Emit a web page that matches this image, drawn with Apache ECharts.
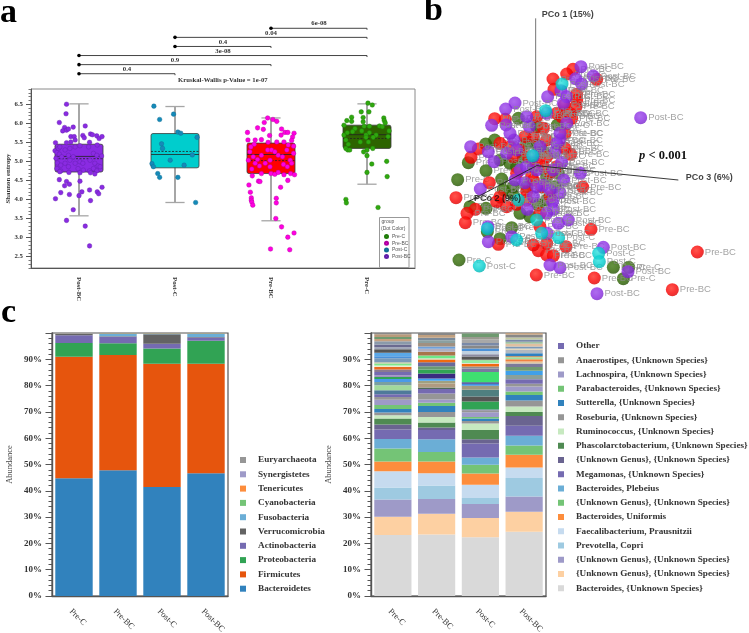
<!DOCTYPE html>
<html><head><meta charset="utf-8">
<style>html,body{margin:0;padding:0;background:#fff}#main{width:749px;height:633px}</style>
<script src="https://cdn.jsdelivr.net/npm/echarts@6/dist/echarts.min.js"></script>
</head><body><div id="main"></div>
<script>
// ---------- Panel a ----------
const boxCategories = ['Post-BC','Post-C','Pre-BC','Pre-C'];
const whiskerLow  = [3.57,3.92,3.44,4.40];
const q1          = [4.72,4.83,4.68,5.34];
const medians     = [5.13,5.18,5.18,5.70];
const means       = [5.07,5.26,5.02,5.60];
const q3          = [5.45,5.73,5.48,5.95];
const whiskerHigh = [6.51,6.44,6.14,6.51];
const yTicksA = [2.5,3,3.5,4,4.5,5,5.5,6,6.5];
const pairs = [[2,3,5,'6e-08'],[1,3,4,'0.04'],[1,2,3,'0.4'],[0,3,2,'3e-08'],[0,2,1,'0.9'],[0,1,0,'0.4']];

const dotsPostBC = [[-.13,6.5],[-.135,6.25],[-.205,6.02],[.065,5.93],[-.06,5.9],[-.15,5.89],[-.17,5.8],[-.13,5.82],[-.11,5.85],[-.085,5.65],[-.05,5.65],[.04,5.68],[.055,5.62],[.12,5.72],[.14,5.7],[.185,5.67],[.21,5.6],[.24,5.65],[.11,5.5],[-.04,5.56],[-.085,5.51],[-.13,5.49],[-.245,5.49],[.01,5.41],[-.25,5.28],[-.215,5.34],[-.2,5.38],[-.23,5.23],[-.205,5.19],[-.18,5.12],[-.24,5.08],[-.225,4.96],[-.19,4.9],[-.23,4.81],[-.19,4.75],[-.145,5.3],[-.095,5.34],[-.04,5.38],[-.11,5.16],[-.06,5.12],[-.095,5.03],[-.145,4.95],[-.11,4.86],[-.04,4.95],[.01,4.99],[.04,4.95],[-.01,4.81],[.045,4.77],[.1,5.38],[.19,5.43],[.15,5.21],[.185,5.16],[.235,5.14],[.115,5.03],[.165,4.95],[.2,4.88],[.15,4.81],[.11,4.75],[.22,4.86],[.185,4.75],[.165,4.67],[.12,4.7],[-.105,4.71],[.01,4.7],[-.2,4.73],[-.205,4.52],[-.13,4.47],[-.1,4.4],[-.15,4.36],[-.19,4.18],[-.1,4.13],[.01,4.48],[.03,4.2],[0,4.1],[.11,4.25],[.12,3.97],[.19,4.2],[.205,4.15],[.24,4.32],[-.245,4.02],[-.06,3.73],[-.13,3.45],[.065,3.3],[.11,2.78]];
const dotsPostC = [[.78,6.45],[.84,6.1],[.985,6.24],[1.03,5.77],[1.06,5.74],[1.23,5.63],[.76,4.94],[.775,4.86],[.82,4.68],[.84,4.58],[1.03,4.58],[.86,5.46],[.87,5.34],[.95,5.03],[1.095,4.9],[1.18,5.17],[1.215,3.92]];
const dotsPreBC = [[1.965,6.14],[2.02,6.1],[2.06,6.05],[1.93,6.02],[1.86,5.88],[1.92,5.84],[2.11,5.85],[1.755,5.76],[2.105,5.69],[1.985,5.68],[2.145,5.76],[2.175,5.76],[2.24,5.74],[2.225,5.64],[1.76,5.56],[1.835,5.56],[1.9,5.57],[2.215,5.55],[2.135,5.51],[2.06,5.51],[1.97,5.5],[1.825,5.45],[1.79,5.38],[2.235,5.4],[2.18,5.43],[1.78,5.25],[1.815,5.12],[1.765,5.03],[1.86,5.05],[1.9,5.16],[1.965,5.3],[2.005,5.3],[2.04,5.25],[2.075,5.16],[1.99,5.03],[2.12,5.12],[2.165,5.3],[2.235,5.21],[2.2,5.03],[1.835,4.95],[1.88,4.88],[1.94,4.95],[1.99,4.86],[2.13,4.92],[2.17,4.86],[2.215,4.95],[1.8,4.8],[1.9,4.68],[1.805,4.62],[2,4.68],[2.04,4.66],[2.075,4.71],[2.135,4.65],[2.205,4.68],[2.245,4.65],[1.77,4.38],[1.87,4.48],[1.885,4.47],[2.175,4.5],[2.1,4.32],[1.785,4.19],[1.795,4.04],[1.795,3.98],[1.8,3.93],[1.81,3.85],[2.055,4.03],[2.055,3.91],[2.05,3.5],[2.11,3.28],[2.24,3.12],[2.175,3.01],[1.995,2.7],[2.195,2.68]];
const dotsPreC = [[3.01,6.53],[3.055,6.48],[2.94,6.3],[3.02,6.3],[2.84,6.16],[3.175,6.14],[2.96,6.15],[2.96,6.04],[2.79,6.07],[2.84,6.05],[3.18,6.07],[3.19,6.01],[2.76,5.95],[2.97,5.92],[3.025,5.92],[3.13,5.93],[3.16,5.91],[2.875,5.86],[2.85,5.78],[2.945,5.8],[2.76,5.69],[2.795,5.75],[3.23,5.8],[3.025,5.75],[2.99,5.69],[3.095,5.69],[3.065,5.63],[2.99,5.63],[3.22,5.65],[2.78,5.56],[2.93,5.51],[3.015,5.51],[2.805,5.45],[2.78,5.34],[2.8,5.3],[2.82,5.3],[3.06,5.34],[2.965,5.25],[3,5.3],[3,5.15],[3.05,4.93],[3.205,5.0],[3,4.71],[3.21,4.6],[2.78,4.0],[2.785,3.91],[3.115,3.79]];

// ---------- Panel b (PCoA scores x1000: PCo3 horizontal, PCo1 vertical as projected) ----------
const pcoaRed = [[109,289],[90,275],[49,260],[180,259],[120,214],[52,229],[-126,141],[-94,139],[83,182],[75,147],[-175,50],[-197,25],[102,34],[0,7],[-142,-51],[138,-64],[-242,-96],[-60,-116],[-120,-108],[-184,-131],[-209,-143],[-214,-171],[163,-191],[-115,-236],[5,-255],[30,-233],[-10,-238],[30,-268],[50,-270],[88,-243],[173,-337],[-1,-328],[482,-259],[407,-372],[10,-183],[-30,-78],[-90,-123],[-50,47],[30,77],[-10,87],[20,112],[-35,87],[-70,27],[-110,67],[15,-63],[60,157],[100,157],[0,147],[30,27],[-15,-33],[60,-3],[120,197],[118,177],[105,142],[85,97],[85,52],[-80,57],[-25,27],[20,-3],[-10,-43],[-60,-23],[-110,-93],[-30,-103],[10,-143],[40,-93],[40,-23]];
const pcoaPurple = [[312,144],[133,297],[170,269],[117,261],[135,245],[73,225],[33,207],[-65,188],[-93,170],[-135,121],[-92,122],[-22,117],[-198,57],[-145,42],[-128,12],[-68,77],[70,77],[55,42],[75,10],[131,-23],[81,-43],[70,-81],[20,-59],[-65,-43],[-35,-51],[-169,-70],[-10,-93],[-28,-131],[48,-108],[50,-131],[65,-173],[95,-163],[-146,-183],[-145,-228],[32,-203],[200,-245],[40,-298],[70,-306],[274,-318],[181,-384],[-75,-213],[90,207],[30,157],[-30,147],[-50,-13],[0,-13],[-80,97],[10,57],[80,187],[90,127],[70,97],[60,67],[-60,47],[-10,27],[50,-13],[0,-63],[-30,-3],[30,-143],[-90,37],[40,-73]];
const pcoaGreen = [[-55,142],[62,122],[-153,65],[-126,77],[-205,9],[-152,-15],[-237,-42],[-105,-40],[-80,7],[20,42],[0,62],[55,-63],[65,-23],[-100,-73],[-70,-88],[-200,-123],[-152,-128],[5,-118],[-20,-153],[-75,-186],[-110,-219],[-148,-198],[-233,-283],[230,-305],[276,-305],[260,-339],[-40,27],[-70,-63],[-30,67],[-60,-3],[30,-33],[-10,-3],[-30,-63],[30,-103],[-50,-143],[0,117],[-110,17]];
const pcoaCyan = [[76,245],[27,165],[-12,30],[-55,-103],[0,-163],[-148,-189],[-60,-223],[15,-203],[66,-216],[186,-263],[188,-288],[-172,-301]];
const pcoAxis1 = [[-3,442],[-3,0]];
const pcoAxis3 = [[0,0],[425,-43]];
const pcoAxis2 = [[0,0],[-205,-108]];

// ---------- Panel c ----------
const barCategories = ['Pre-C','Pre-BC','Post-C','Post-BC'];
const phylumNames = ['Bacteroidetes','Firmicutes','Proteobacteria','Actinobacteria','Verrucomicrobia','Fusobacteria','Cyanobacteria','Tenericutes','Synergistetes','Euryarchaeota'];
const phylumPreC   = [44.8,46.2,5.2,2.9,.5,.2,.05,.05,0,.1];
const phylumPreBC  = [47.8,43.8,4.5,2.5,.2,.9,.1,.1,0,.1];
const phylumPostC  = [41.4,46.9,5.8,1.8,3.6,.2,.1,.1,0,.1];
const phylumPostBC = [46.7,41.6,8.8,1.2,.2,1.2,.1,.1,0,.1];

const speciesNames = ['Bacteroides, {Unknown Species}','{Unknown Genus}, {Unknown Species}#1','{Unknown Genus}, {Unknown Species}#2','Prevotella, Copri','Faecalibacterium, Prausnitzii','Bacteroides, Uniformis','{Unknown Genus}, {Unknown Species}#3','Bacteroides, Plebeius','Megamonas, {Unknown Species}','{Unknown Genus}, {Unknown Species}#4','Phascolarctobacterium, {Unknown Species}','Ruminococcus, {Unknown Species}','Roseburia, {Unknown Species}','Sutterella, {Unknown Species}','Parabacteroides, {Unknown Species}','Lachnospira, {Unknown Species}','Anaerostipes, {Unknown Species}','Other'];
const speciesPreC   = [23.2,6.9,6.6,4.6,6.1,3.7,5.0,3.6,3.6,1.9,2.3,1.2,1.1,1.3,1.5,2.0,1.1,1.0];
const speciesPreBC  = [23.4,7.9,5.6,5.1,4.7,4.4,3.7,4.8,3.5,1.0,1.9,2.1,1.9,2.2,1.3,1.2,2.3,1.7];
const speciesPostC  = [22.3,7.4,5.3,2.3,5.0,4.3,3.3,2.8,5.3,1.6,3.5,2.5,.9,1.0,.6,1.8,.7,.3];
const speciesPostBC = [24.4,7.6,5.8,7.1,4.0,4.8,3.5,3.7,3.8,3.7,1.6,2.1,2.2,2.1,1.4,1.9,1.0,1.7];
const stripesPreC   = [1.5,1.9,1.3,1.1,.8,.6,1.3,.9,1.0,.5,.8,.5,1.5,.8,1.3,1.3,.8,1.0,1.3,.8,.8,1.0,.5];
const stripesPreBC  = [.6,1.5,1.0,.9,1.9,1.5,1.3,1.5,1.0,.5,1.0,1.5,1.1,.9,1.3,1.0,1.0,1.0,.8];
const stripesPostC  = [3.1,1.9,2.5,1.5,.8,.6,3.9,1.3,.8,1.0,.4,.6,.5,1.3,.8,1.3,.9,1.1,1.0,1.3,1.0,1.3];
const stripesPostBC = [1.6,1.6,1.5,1.3,.8,.8,.8,.5,1.0,1.3,.5,.8,1.0,.8,.8,.8,1.0,.7];

// ---------- Styles ----------
const boxColors = ['#8a2be2','#00cdcd','#ff0000','#2d6400'];
const phylumColors = ['#3182bd','#e6550d','#31a354','#756bb1','#636363','#6baed6','#74c476','#fd8d3c','#9e9ac8','#969696'];
const speciesColors = ['#d9d9d9','#fdd0a2','#9e9ac8','#9ecae1','#c6dbef','#fd8d3c','#74c476','#6baed6','#756bb1','#6a6490','#4f8a52','#c7e9c0','#969696','#3182bd','#74c476','#9e9ac8','#969696','#756bb1'];
const stripeColorsPreC = ['#4f7a9a','#a1d99b','#7aa0a0','#4a9ae8','#31a354','#a090c0','#756bb1','#8a7a90','#e86a20','#e8f0d0','#7ee88a','#c0c8a0','#7a9ab8','#4a90d8','#5aa8e8','#555555','#a0a8b8','#6a6a90','#8a9aaa','#c4a080','#6f9a70','#b89a7a','#888888'];
const stripeColorsPreBC = ['#4f6a5a','#b09a80','#a0a080','#40a0f0','#3a2a80','#31a354','#6a9a70','#6a6a9a','#f06a10','#d0e0c0','#6ee888','#a8744a','#b0b0c0','#70a0d8','#a09080','#8aa0a0','#7a8a9a','#c0a080','#888888'];
const stripeColorsPostC = ['#31a354','#555555','#4f7f80','#a09a80','#4090e0','#3a3a90','#3fe070','#7a7aa0','#909090','#f06a10','#e0e0d0','#6ee888','#a0e0a0','#555555','#8a8aa0','#c0d0e0','#4a90d8','#888888','#7a8aa8','#a8a8a8','#9a9a90','#6f9a70'];
const stripeColorsPostBC = ['#8aa09a','#40a0e8','#6f9a70','#7a7a9a','#e0c8a0','#f08040','#a0e0a0','#c09a70','#2f80c0','#b0b8c0','#e0d0b0','#7a9ab8','#e0c0a0','#a0c0a0','#7a8aa8','#c0c8a0','#888888','#c0a080'];
const SERIF = '"Liberation Serif",serif', SANS = '"Liberation Sans",sans-serif';

function sphere(light, base, dark){
  return new echarts.graphic.RadialGradient(0.42,0.38,0.68,[{offset:0,color:light},{offset:0.6,color:base},{offset:1,color:dark}]);
}
const series = [];

// bracket rows
series.push({type:'custom',name:'pairs',xAxisIndex:2,yAxisIndex:2,data:pairs,silent:true,clip:false,z:3,
  renderItem(p,api){
    const a=api.coord([api.value(0),api.value(2)]), b=api.coord([api.value(1),api.value(2)]);
    const lineStyle={stroke:'#444',lineWidth:1,fill:null};
    return {type:'group',children:[
      {type:'line',shape:{x1:a[0],y1:a[1],x2:b[0],y2:b[1]},style:lineStyle},
      {type:'line',shape:{x1:b[0],y1:b[1],x2:b[0],y2:b[1]+1.5},style:lineStyle},
      {type:'circle',shape:{cx:a[0],cy:a[1],r:1.8},style:{fill:'#000'}},
      {type:'text',style:{x:(a[0]+b[0])/2,y:a[1]-4.6,text:pairs[p.dataIndex][3],align:'center',verticalAlign:'middle',font:'bold 6.8px '+SERIF,fill:'#333'}}
    ]};
  }});

// boxes
series.push({type:'custom',name:'boxes',xAxisIndex:1,yAxisIndex:0,silent:true,z:2,
  data:boxCategories.map((c,i)=>[i,whiskerLow[i],q1[i],medians[i],means[i],q3[i],whiskerHigh[i]]),
  renderItem(p,api){
    const x=api.value(0),hw=0.25,cw=0.1;
    const P=(dx,k)=>api.coord([x+dx,api.value(k)]);
    const lo=P(0,1),hi=P(0,6),l1=P(-hw,2),r3=P(hw,5),ml=P(-hw,3),mr=P(hw,3),al=P(-hw,4),ar=P(hw,4);
    const wh={stroke:'#a6a6a6',lineWidth:2,fill:null};
    return {type:'group',children:[
      {type:'line',shape:{x1:lo[0],y1:lo[1],x2:hi[0],y2:hi[1]},style:wh},
      {type:'line',shape:{x1:P(-cw,1)[0],y1:lo[1],x2:P(cw,1)[0],y2:lo[1]},style:{stroke:'#a6a6a6',lineWidth:1.3,fill:null}},
      {type:'line',shape:{x1:P(-cw,6)[0],y1:hi[1],x2:P(cw,6)[0],y2:hi[1]},style:{stroke:'#a6a6a6',lineWidth:1.3,fill:null}},
      {type:'rect',shape:{x:l1[0],y:r3[1],width:r3[0]-l1[0],height:l1[1]-r3[1],r:2},style:{fill:boxColors[p.dataIndex],stroke:'#3a3a3a',lineWidth:.8}},
      {type:'line',shape:{x1:ml[0],y1:ml[1],x2:mr[0],y2:mr[1]},style:{stroke:'#222',lineWidth:.8,fill:null}},
      {type:'line',shape:{x1:al[0],y1:al[1],x2:ar[0],y2:ar[1]},style:{stroke:'#222',lineWidth:.8,lineDash:[2,1.5],fill:null}}
    ]};
  }});

// dots
[['Post-BC',dotsPostBC,'#8a2be2','#5f1ea8'],['Post-C',dotsPostC,'#158ab8','#0f6d93'],['Pre-BC',dotsPreBC,'#ff00e0','#b000a0'],['Pre-C',dotsPreC,'#2fa80f','#1f7a08']].forEach(d=>{
  series.push({type:'scatter',name:d[0],xAxisIndex:1,yAxisIndex:0,data:d[1],symbolSize:4.6,silent:true,z:3,
    itemStyle:{color:d[2],borderColor:d[3],borderWidth:.4,opacity:1}});
});

// PCoA axis lines
[[pcoAxis1,'#666',1],[pcoAxis3,'#222',10],[pcoAxis2,'#222',10]].forEach((d,i)=>{
  series.push({type:'line',name:'axis'+i,xAxisIndex:3,yAxisIndex:3,data:d[0],showSymbol:false,silent:true,z:d[2],
    lineStyle:{color:d[1],width:.9}});
});
// PCoA spheres
[['Pre-C',pcoaGreen,['#3d7510','#2d6400','#1f4c00'],2],['Pre-BC',pcoaRed,['#ff2a20','#f80000','#d40000'],3],['Post-BC',pcoaPurple,['#9a48ea','#8a2be2','#7322c4'],4],['Post-C',pcoaCyan,['#30e0de','#00cdcd','#00aaaa'],5]].forEach(d=>{
  series.push({type:'scatter',name:'PCoA '+d[0],xAxisIndex:3,yAxisIndex:3,data:d[1],symbolSize:13,silent:true,z:d[3],
    itemStyle:{color:sphere(d[2][0],d[2][1],d[2][2])},
    label:{show:true,position:'right',distance:1,formatter:d[0],color:'#8c8c8c',fontFamily:SANS,fontSize:9.5}});
});
series.push({type:'scatter',name:'PCo labels',xAxisIndex:3,yAxisIndex:3,symbolSize:0,silent:true,z:12,
  data:[{name:'PCo 1 (15%)',value:[15,452]},{name:'PCo 3 (6%)',value:[447,-35]},{name:'PCo 2 (9%)',value:[-188,-100]}],
  label:{show:true,position:'right',distance:0,formatter:'{b}',color:'#111',fontFamily:SANS,fontWeight:'bold',fontSize:9}});

// Phylum stack
phylumNames.forEach((n,i)=>{
  series.push({type:'bar',name:n,xAxisIndex:4,yAxisIndex:4,stack:'phylum',barCategoryGap:'15%',silent:true,
    data:[phylumPreC[i],phylumPreBC[i],phylumPostC[i],phylumPostBC[i]],itemStyle:{color:phylumColors[i]}});
});
// Species stack
speciesNames.forEach((n,i)=>{
  series.push({type:'bar',name:n,xAxisIndex:5,yAxisIndex:5,stack:'species',barCategoryGap:'15%',silent:true,
    data:[speciesPreC[i],speciesPreBC[i],speciesPostC[i],speciesPostBC[i]],itemStyle:{color:speciesColors[i]}});
});
stripeColorsPreC.forEach((_,i)=>{
  const cell=(vals,cols)=>({value:vals[i]||0,itemStyle:{color:cols[i]||'#888'}});
  series.push({type:'bar',name:'minor'+i,xAxisIndex:5,yAxisIndex:5,stack:'species',barCategoryGap:'15%',silent:true,
    data:[cell(stripesPreC,stripeColorsPreC),cell(stripesPreBC,stripeColorsPreBC),cell(stripesPostC,stripeColorsPostC),cell(stripesPostBC,stripeColorsPostBC)]});
});

const hiddenX=(g,min,max)=>({type:'value',gridIndex:g,min,max,show:false});
const hiddenY=(g,min,max)=>({type:'value',gridIndex:g,min,max,show:false});
const barXAxis=g=>({type:'category',gridIndex:g,data:barCategories,axisLine:{onZero:false,lineStyle:{color:'#555',width:1.4}},axisTick:{show:false},
  axisLabel:{rotate:-45,margin:11,fontFamily:SERIF,fontSize:8.5,color:'#333',interval:0,align:'left',verticalAlign:'top'}});
const barYAxis=g=>({type:'value',gridIndex:g,min:0,max:100,interval:10,name:'Abundance',nameLocation:'middle',nameGap:38,nameMoveOverlap:false,
  nameTextStyle:{fontFamily:SERIF,fontSize:8.5,color:'#444'},splitLine:{show:false},
  axisLine:{show:true,lineStyle:{color:'#555',width:1.4}},axisTick:{show:true,length:6.5,lineStyle:{color:'#555'}},
  minorTick:{show:true,splitNumber:5,length:3.5,lineStyle:{color:'#555'}},
  axisLabel:{margin:10,fontFamily:SERIF,fontWeight:'bold',fontSize:9,color:'#333',formatter:v=>v===100?'':v+'%'}});

const option = {
  animation:false,backgroundColor:'#fff',
  grid:[
    {left:31,top:89,width:384,height:179,show:true,borderColor:'#8a8a8a',borderWidth:1,outerBoundsMode:'none'},
    {left:31,top:19.2,width:384,height:63.6,outerBoundsMode:'none'},
    {left:400,top:0,width:349,height:310,outerBoundsMode:'none'},
    {left:52,top:333,width:176,height:263,show:true,borderColor:'#555',borderWidth:1.2,outerBoundsMode:'none'},
    {left:371,top:333,width:175,height:263,show:true,borderColor:'#555',borderWidth:1.2,outerBoundsMode:'none'}
  ],
  xAxis:[
    {type:'category',gridIndex:0,data:boxCategories,axisLine:{onZero:false,lineStyle:{color:'#555'}},axisTick:{alignWithLabel:true,length:5,lineStyle:{color:'#555'}},
      axisLabel:{rotate:-90,margin:9,fontFamily:SERIF,fontWeight:'bold',fontSize:6.8,color:'#333',interval:0}},
    hiddenX(0,-0.5,3.5),
    hiddenX(1,-0.5,3.5),
    hiddenX(2,-410,637),
    barXAxis(3),barXAxis(4)
  ],
  yAxis:[
    {type:'value',gridIndex:0,min:2.2,max:6.9,interval:0.1,name:'Shannon entropy',nameLocation:'middle',nameGap:19,nameMoveOverlap:false,
      nameTextStyle:{fontFamily:SERIF,fontWeight:'bold',fontSize:6.8,color:'#333'},splitLine:{show:false},
      axisLine:{show:true,onZero:false,lineStyle:{color:'#555'}},axisTick:{length:2.5,lineStyle:{color:'#777'}},
      axisLabel:{margin:8,fontFamily:SERIF,fontWeight:'bold',fontSize:6.8,color:'#333',
        customValues:yTicksA,formatter:v=>v.toFixed(1)}},
    {type:'value',gridIndex:0,position:'left',min:2.2,max:6.9,splitLine:{show:false},axisLine:{show:false,onZero:false},
      axisLabel:{show:false},axisTick:{show:true,length:5,customValues:yTicksA,lineStyle:{color:'#555'}}},
    hiddenY(1,-1,6),
    hiddenY(2,-433,497),
    barYAxis(3),barYAxis(4)
  ],
  legend:[
    {data:['Pre-C','Pre-BC','Post-C','Post-BC'],orient:'vertical',left:384,top:234,padding:0,z:30,itemWidth:3,itemHeight:3,itemGap:1.7,selectedMode:false,icon:'circle',
      textStyle:{fontFamily:SANS,fontSize:5,color:'#555',padding:[0,0,0,-1]}},
    {data:phylumNames.slice().reverse(),orient:'vertical',left:240,top:455.5,padding:0,itemWidth:6,itemHeight:6,itemGap:5.3,selectedMode:false,icon:'rect',
      textStyle:{fontFamily:SERIF,fontWeight:'bold',fontSize:9.2,color:'#333',padding:[0,0,0,7]}},
    {data:speciesNames.slice().reverse(),orient:'vertical',left:558,top:341.5,padding:0,itemWidth:6,itemHeight:6,itemGap:5.25,selectedMode:false,icon:'rect',
      formatter:n=>n.split('#')[0],
      textStyle:{fontFamily:SERIF,fontWeight:'bold',fontSize:9.2,color:'#333',padding:[0,0,0,7]}}
  ],
  graphic:[
    {type:'text',left:0,top:-4,style:{text:'a',font:'bold 34px '+SERIF,fill:'#000'}},
    {type:'text',left:424,top:-6,style:{text:'b',font:'bold 34px '+SERIF,fill:'#000'}},
    {type:'text',left:1,top:296,style:{text:'c',font:'bold 34px '+SERIF,fill:'#000'}},
    {type:'text',left:178,top:77,style:{text:'Kruskal-Wallis p-Value = 1e-07',font:'bold 6.7px '+SERIF,fill:'#333'}},
    {type:'rect',left:379,top:217,z:2,shape:{width:29.5,height:50},style:{fill:'#fff',stroke:'#999',lineWidth:1}},
    {type:'text',left:381.5,top:219.5,style:{text:'group',font:'5px '+SANS,fill:'#555'},z:21},
    {type:'text',left:381,top:226.5,style:{text:'(Dot Color)',font:'5px '+SANS,fill:'#555'},z:21},
    {type:'text',left:639,top:149,z:20,style:{rich:{i:{font:'italic bold 12.5px '+SERIF,fill:'#111'},r:{font:'bold 12.5px '+SERIF,fill:'#111'}},text:'{i|p} {r|< 0.001}'}}
  ],
  series
};
const chart = echarts.init(document.getElementById('main'),null,{renderer:'canvas'});
chart.setOption(option);
</script></body></html>
